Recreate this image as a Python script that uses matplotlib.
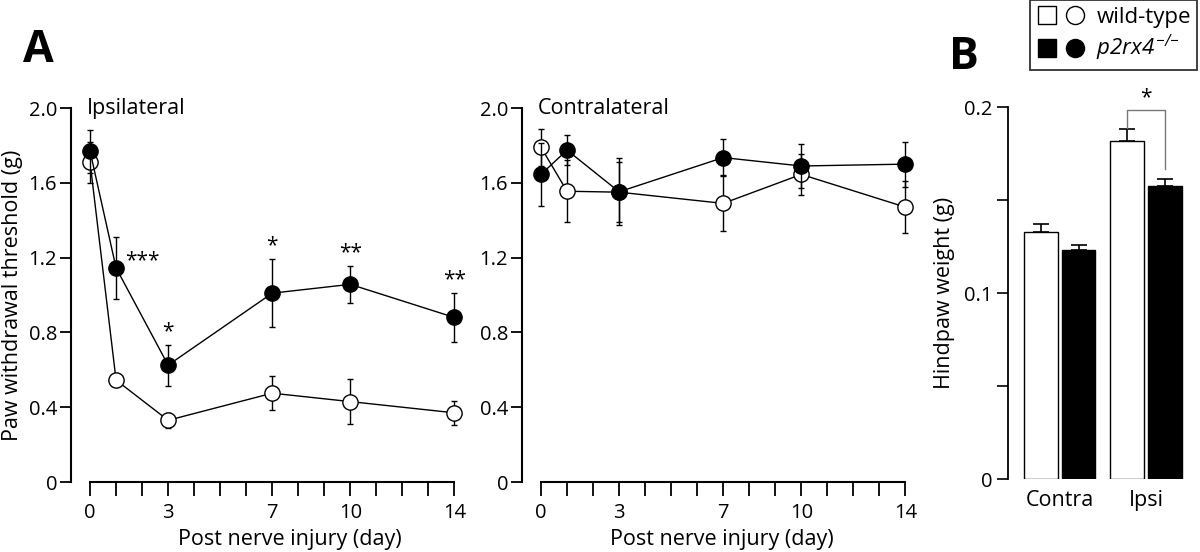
import numpy as np
from matplotlib import pyplot as plt
from matplotlib.lines import Line2D
from matplotlib.legend_handler import HandlerTuple

plt.rcParams['font.family'] = ['Open Sans', 'DejaVu Sans']
# only the legend genotype label uses mathtext: keep it all italic
plt.rcParams['mathtext.fontset'] = 'custom'
plt.rcParams['mathtext.rm'] = 'Open Sans:italic'
plt.rcParams['mathtext.it'] = 'Open Sans:italic'

# time course data (g)
days = [0, 1, 3, 7, 10, 14]

ipsi_wt = [1.71, 0.545, 0.33, 0.475, 0.43, 0.37]
ipsi_wt_err = [0.11, 0.02, 0.04, 0.09, 0.12, 0.065]
ipsi_ko = [1.77, 1.145, 0.625, 1.01, 1.057, 0.88]
ipsi_ko_err = [0.115, 0.165, 0.11, 0.18, 0.10, 0.13]
ipsi_stars = ['', '***', '*', '*', '**', '**']

contra_wt = [1.79, 1.555, 1.55, 1.49, 1.645, 1.47]
contra_wt_err = [0.10, 0.165, 0.16, 0.15, 0.11, 0.14]
contra_ko = [1.645, 1.775, 1.552, 1.735, 1.69, 1.70]
contra_ko_err = [0.17, 0.08, 0.18, 0.10, 0.12, 0.12]

# hindpaw weight (g)
sides = ['Contra', 'Ipsi']
weight_wt = [0.133, 0.182]
weight_wt_err = [0.004, 0.006]
weight_ko = [0.123, 0.1575]
weight_ko_err = [0.003, 0.004]

yticks = [0, 0.4, 0.8, 1.2, 1.6, 2.0]
ytick_labels = ['0', '0.4', '0.8', '1.2', '1.6', '2.0']
xticks = [0, 3, 7, 10, 14]

fig = plt.figure(figsize=(12, 5.52), dpi=100)


def time_panel(rect, wt, wt_err, ko, ko_err, title):
    ax = fig.add_axes(rect)
    ax.errorbar(days, wt, yerr=wt_err, color='black', lw=1, capsize=2.5,
                capthick=1, elinewidth=1, marker='o', ms=11, mfc='white',
                mec='black', mew=1, zorder=2)
    ax.errorbar(days, ko, yerr=ko_err, color='black', lw=1, capsize=2.5,
                capthick=1, elinewidth=1, marker='o', ms=11, mfc='black',
                mec='black', mew=1, zorder=3)
    ax.set_xlim(-0.73, 14.3)
    ax.set_ylim(0, 2.0)
    for s in ['top', 'right']:
        ax.spines[s].set_visible(False)
    ax.spines['left'].set_linewidth(1.5)
    ax.spines['bottom'].set_linewidth(1.5)
    ax.spines['bottom'].set_bounds(0, 14)
    ax.set_yticks(yticks)
    ax.set_yticklabels(ytick_labels)
    ax.set_xticks(xticks)
    ax.set_xticks(range(15), minor=True)
    ax.tick_params(axis='both', which='both', direction='out', width=1.3,
                   labelsize=14.5, colors='black')
    ax.tick_params(axis='y', length=8, pad=2)
    ax.tick_params(axis='x', which='both', length=10, pad=5)
    ax.set_xlabel('Post nerve injury (day)', fontsize=15.5)
    ax.text(0.04, 2.0, title, fontsize=15.5, va='center', ha='left',
            transform=ax.get_yaxis_transform())
    return ax


ax1 = time_panel([0.0592, 0.1268, 0.326, 0.6775], ipsi_wt, ipsi_wt_err,
                 ipsi_ko, ipsi_ko_err, 'Ipsilateral')
ax1.set_ylabel('Paw withdrawal threshold (g)', fontsize=15.5, labelpad=4)
ax1.xaxis.set_label_coords(0.56, -0.125)
for d, v, e, s in zip(days, ipsi_ko, ipsi_ko_err, ipsi_stars):
    if s == '***':
        ax1.text(d + 0.35, v + 0.04, s, fontsize=15, ha='left', va='center')
    elif s:
        ax1.text(d, v + e + 0.015, s, fontsize=15, ha='center', va='bottom')

ax2 = time_panel([0.435, 0.1268, 0.326, 0.6775], contra_wt, contra_wt_err,
                 contra_ko, contra_ko_err, 'Contralateral')
ax2.xaxis.set_label_coords(0.51, -0.125)

# bar panel
ax3 = fig.add_axes([0.84, 0.132, 0.158, 0.674])
x = np.arange(len(sides))
w = 0.39
ax3.bar(x - 0.22, weight_wt, w, color='white', edgecolor='black', lw=1,
        yerr=[[0, 0], weight_wt_err], capsize=6, error_kw=dict(lw=1.2, capthick=1.2))
ax3.bar(x + 0.22, weight_ko, w, color='black', edgecolor='black', lw=1,
        yerr=[[0, 0], weight_ko_err], capsize=6, error_kw=dict(lw=1.2, capthick=1.2))
ax3.set_xlim(-0.6, 1.6)
ax3.set_ylim(0, 0.2)
for s in ['top', 'right', 'bottom']:
    ax3.spines[s].set_visible(False)
ax3.spines['left'].set_linewidth(1.3)
ax3.set_yticks([0, 0.1, 0.2])
ax3.set_yticklabels(['0', '0.1', '0.2'])
ax3.set_yticks([0.05, 0.15], minor=True)
ax3.set_xticks(x)
ax3.set_xticklabels(sides)
ax3.tick_params(axis='y', which='both', length=8, width=1.2, labelsize=14.5)
ax3.tick_params(axis='x', length=0, labelsize=15.5, pad=8)
ax3.set_ylabel('Hindpaw weight (g)', fontsize=15.5, labelpad=6)

# significance bracket
y_top = 0.1985
x_l, x_r = x[1] - 0.22, x[1] + 0.22
ax3.plot([x_l, x_l, x_r, x_r],
         [weight_wt[1] + weight_wt_err[1] + 0.001, y_top, y_top,
          weight_ko[1] + weight_ko_err[1] + 0.005],
         color='#777777', lw=1)
ax3.text(x[1], y_top + 0.001, '*', ha='center', va='bottom', fontsize=15)

# legend
h_wt = (Line2D([], [], ls='none', marker='s', ms=13, mfc='white', mec='black'),
        Line2D([], [], ls='none', marker='o', ms=13, mfc='white', mec='black'))
h_ko = (Line2D([], [], ls='none', marker='s', ms=13, mfc='black', mec='black'),
        Line2D([], [], ls='none', marker='o', ms=13, mfc='black', mec='black'))
leg = fig.legend([h_wt, h_ko],
                 ['wild-type', r'$\mathrm{p2rx4}^{\,{-}/{-}}$'],
                 handler_map={tuple: HandlerTuple(ndivide=None, pad=0.3)},
                 loc='upper left', bbox_to_anchor=(0.858, 1.0),
                 fontsize=16, frameon=True, fancybox=False,
                 edgecolor='black', handlelength=2.2, handletextpad=0.5,
                 borderpad=0.3, labelspacing=0.25, borderaxespad=0)
leg.get_frame().set_linewidth(1.3)

fig.text(0.019, 0.909, 'A', fontsize=32, fontweight='bold', va='center')
fig.text(0.791, 0.895, 'B', fontsize=32, fontweight='bold', va='center')

fig.savefig('out.png', dpi=100)
